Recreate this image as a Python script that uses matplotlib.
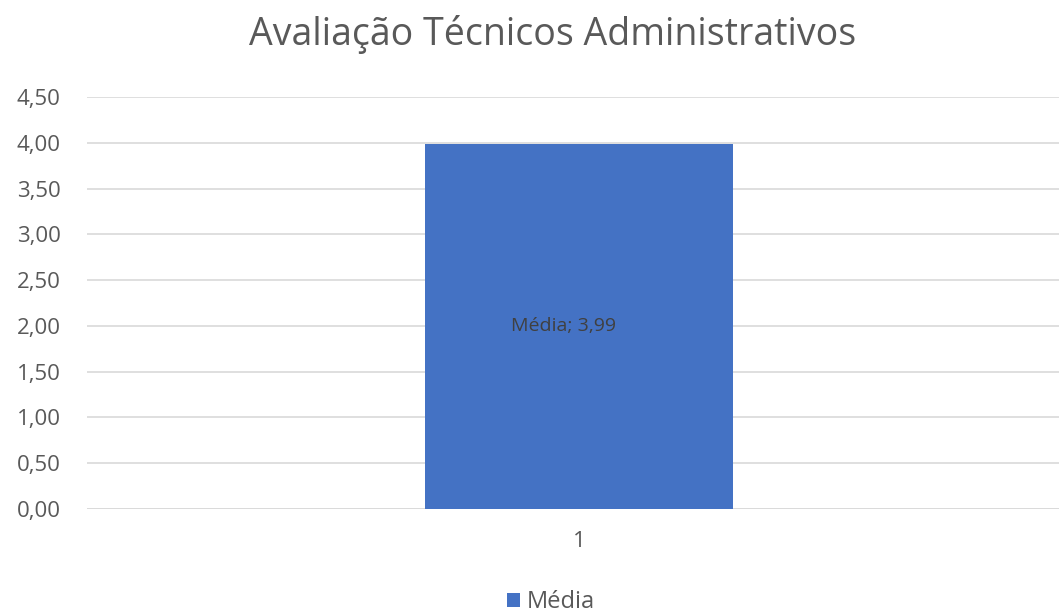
import matplotlib.pyplot as plt

categories = ["1"]
media = [3.99]
ticks = [0, 0.5, 1, 1.5, 2, 2.5, 3, 3.5, 4, 4.5]

plt.rcParams["font.family"] = ["Open Sans", "DejaVu Sans"]
grey = "#595959"

fig = plt.figure(figsize=(10.59, 6.12), dpi=100)
ax = fig.add_axes([87 / 1059, 1 - 509 / 612, 984 / 1059, 412 / 612])

bars = ax.bar(range(len(categories)), media, width=0.313, color="#4472C4", label="Média", zorder=3)
ax.set_xlim(-0.5, 0.5)
ax.set_ylim(0, 4.5)
ax.set_yticks(ticks)
ax.set_yticklabels([f"{t:.2f}".replace(".", ",") for t in ticks])
ax.set_xticks(range(len(categories)))
ax.set_xticklabels(categories)
ax.yaxis.grid(True, color="#D9D9D9", linewidth=1.2, zorder=0)
for s in ax.spines.values():
    s.set_visible(False)
ax.axhline(0, color="#D9D9D9", linewidth=1.2, zorder=2)
ax.tick_params(length=0, labelsize=16, colors=grey)
ax.tick_params(axis="y", pad=19)
ax.tick_params(axis="x", pad=16)

for i, v in enumerate(media):
    ax.annotate(f"Média; {v:.2f}".replace(".", ","), (i, v / 2), xytext=(-11, 0),
                textcoords="offset points", ha="center", va="center", fontsize=14, color="#404040")

fig.text(0.522, 1 - 35 / 612, "Avaliação Técnicos Administrativos", ha="center", va="center",
         fontsize=27, color=grey)
fig.legend(loc="center", bbox_to_anchor=(0.52, 1 - 602 / 612), frameon=False, fontsize=17,
           labelcolor=grey, handlelength=0.55, handleheight=0.55, handletextpad=0.3)

fig.savefig("out.png", dpi=100)
